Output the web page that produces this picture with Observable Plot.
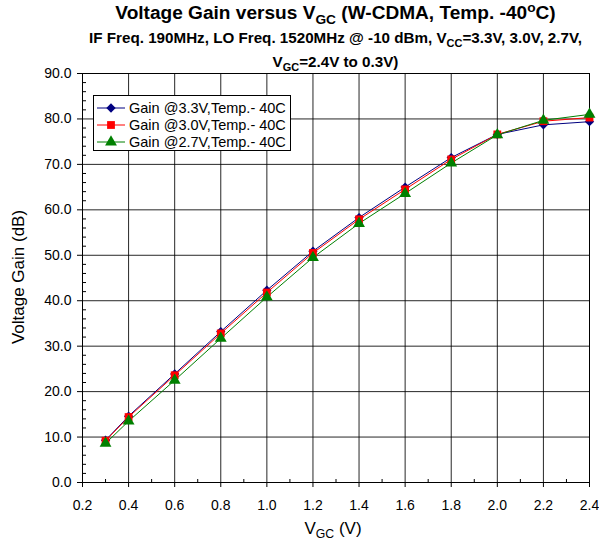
<!DOCTYPE html>
<html><head><meta charset="utf-8">
<script src="https://cdn.jsdelivr.net/npm/d3@7"></script>
<script src="https://cdn.jsdelivr.net/npm/@observablehq/plot@0.6"></script>
<style>
body{margin:0;background:#fff;font-family:Arial,"Liberation Sans",sans-serif;color:#000;}
#wrap{position:relative;width:599px;height:543px;overflow:hidden;}
#chart{position:absolute;left:0;top:0;}
.t{position:absolute;left:82px;width:507px;text-align:center;font-weight:bold;white-space:nowrap;}
.t sub,.t sup,.lab sub{font-size:0.72em;line-height:0;}
#title{top:2px;font-size:18px;line-height:22px;transform:scaleX(1.06);}
#sub1{top:30px;font-size:14px;line-height:17px;transform:scaleX(1.085);}
#sub2{top:54px;font-size:14px;line-height:17px;transform:scaleX(1.085);}
#ylab{position:absolute;left:19px;top:277px;transform:translate(-50%,-50%) rotate(-90deg);font-size:17px;white-space:nowrap;}
#xlab{position:absolute;left:333px;top:529px;transform:translate(-50%,-50%);font-size:17px;white-space:nowrap;}
#legend{position:absolute;left:93px;top:95px;width:196px;height:54px;border:1px solid #000;background:#fff;font-size:14.5px;}
#legend .row{position:absolute;left:3px;height:17px;display:flex;align-items:center;}
#legend svg{margin-right:4px;}
</style>
</head><body>
<div id="wrap">
<div id="chart"></div>
<div class="t" id="title">Voltage Gain versus V<sub>GC</sub> (W-CDMA, Temp. -40<sup>o</sup>C)</div>
<div class="t" id="sub1">IF Freq. 190MHz, LO Freq. 1520MHz @ -10 dBm, V<sub>CC</sub>=3.3V, 3.0V, 2.7V,</div>
<div class="t" id="sub2">V<sub>GC</sub>=2.4V to 0.3V)</div>
<div id="ylab" class="lab">Voltage Gain (dB)</div>
<div id="xlab" class="lab">V<sub>GC</sub> (V)</div>
<div id="legend"></div>
</div>
<script>
// Data
const vgc = [0.3, 0.4, 0.6, 0.8, 1.0, 1.2, 1.4, 1.6, 1.8, 2.0, 2.2, 2.4];
const gain33 = [9.3, 14.6, 23.9, 33.2, 42.3, 50.9, 58.3, 65.0, 71.5, 76.6, 78.7, 79.4];
const gain30 = [9.2, 14.4, 23.6, 32.8, 41.8, 50.5, 57.9, 64.5, 71.1, 76.6, 79.5, 80.3];
const gain27 = [8.6, 13.5, 22.5, 31.7, 40.8, 49.5, 57.0, 63.6, 70.3, 76.5, 79.7, 81.0];
const seriesNames = ["Gain @3.3V,Temp.- 40C", "Gain @3.0V,Temp.- 40C", "Gain @2.7V,Temp.- 40C"];
const xTicks = [0.2, 0.4, 0.6, 0.8, 1.0, 1.2, 1.4, 1.6, 1.8, 2.0, 2.2, 2.4];
const xMinor = [0.3, 0.5, 0.7, 0.9, 1.1, 1.3, 1.5, 1.7, 1.9, 2.1, 2.3];
const yTicks = [0, 10, 20, 30, 40, 50, 60, 70, 80, 90];
const yMinor = [2,4,6,8,12,14,16,18,22,24,26,28,32,34,36,38,42,44,46,48,52,54,56,58,62,64,66,68,72,74,76,78,82,84,86,88];

const styles = [
  {color: "#000080", symbol: "diamond2", r: 4.2},
  {color: "#FF0000", symbol: "square", r: 4.4},
  {color: "#008000", symbol: "triangle", r: 4.4}
];
const series = [gain33, gain30, gain27].map((g, k) =>
  vgc.map((x, i) => ({x, y: g[i], s: seriesNames[k]})));

const marks = [
  Plot.gridX(xTicks, {stroke: "#000", strokeOpacity: 0.85}),
  Plot.gridY(yTicks, {stroke: "#000", strokeOpacity: 0.85}),
  Plot.frame({stroke: "#000"}),
  Plot.axisX(xTicks, {tickFormat: d3.format(".1f"), tickSize: 5, tickPadding: 13, label: null}),
  Plot.axisX(xMinor, {tickSize: -3, tickFormat: () => "", label: null}),
  Plot.axisY(yTicks, {tickFormat: d3.format(".1f"), tickSize: 5, tickPadding: 6, label: null}),
  Plot.axisY(yMinor, {tickSize: -4, tickFormat: () => "", label: null})
];
series.forEach((data, k) => {
  marks.push(Plot.line(data, {x: "x", y: "y", stroke: styles[k].color, strokeWidth: 1}));
});
series.forEach((data, k) => {
  marks.push(Plot.dot(data, {x: "x", y: "y", symbol: () => styles[k].symbol, fill: styles[k].color, stroke: "none", r: styles[k].r}));
});

const chart = Plot.plot({
  width: 599, height: 543,
  marginTop: 73, marginBottom: 61, marginLeft: 82, marginRight: 10,
  x: {domain: [0.2, 2.4]},
  y: {domain: [0, 90]},
  symbol: {type: "identity"},
  style: {fontFamily: "Arial, 'Liberation Sans', sans-serif", fontSize: "14px", color: "#000", background: "#fff"},
  marks
});
document.getElementById("chart").appendChild(chart);

// Legend
const leg = document.getElementById("legend");
const symPath = {
  diamond2: d3.symbol(d3.symbolDiamond2, Math.PI * 4.2 * 4.2)(),
  square: d3.symbol(d3.symbolSquare, Math.PI * 4.4 * 4.4)(),
  triangle: d3.symbol(d3.symbolTriangle, Math.PI * 4.4 * 4.4)()
};
seriesNames.forEach((name, k) => {
  const row = document.createElement("div");
  row.className = "row";
  row.style.top = (3 + k * 17) + "px";
  row.innerHTML = `<svg width="28" height="14"><line x1="0" x2="28" y1="7" y2="7" stroke="${styles[k].color}" stroke-width="1"/><path transform="translate(14,7)" d="${symPath[styles[k].symbol]}" fill="${styles[k].color}"/></svg><span>${name}</span>`;
  leg.appendChild(row);
});
</script>
</body></html>
